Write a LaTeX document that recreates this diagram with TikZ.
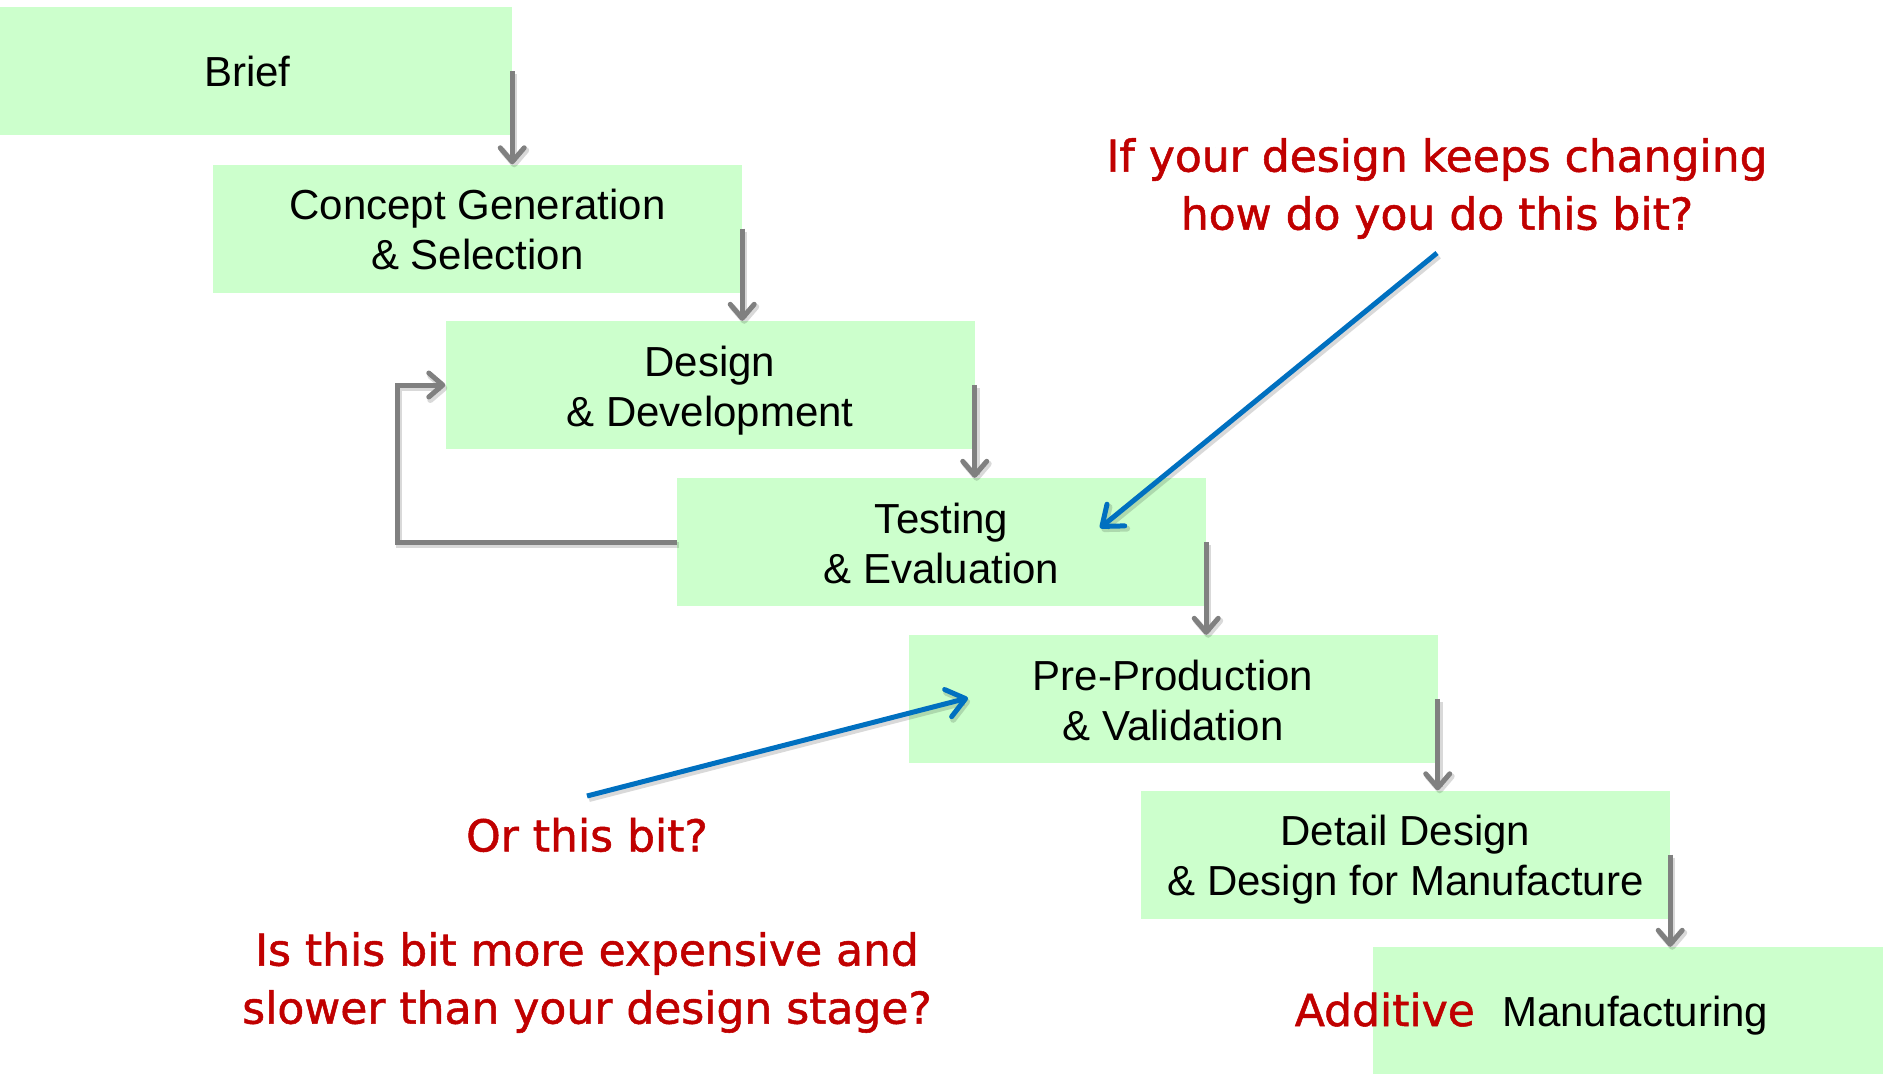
\documentclass[tikz,border=0pt]{standalone}
\usepackage{fontspec}
\setmainfont{Liberation Sans}
\newfontfamily\handfont[FakeBold=1.2]{DejaVu Sans}
\usetikzlibrary{arrows.meta}
\definecolor{stagefill}{RGB}{204,255,204}
\definecolor{flowgray}{RGB}{128,128,128}
\definecolor{noteRed}{RGB}{192,0,0}
\definecolor{noteBlue}{RGB}{0,112,192}
% two-line stage labels with fixed strut spacing, set slightly low in the box
\newcommand{\twolines}[2]{\begin{tabular}{@{}c@{}}\rule{0pt}{47pt}#1\\#2\end{tabular}}

\begin{document}
\begin{tikzpicture}[x=1pt,y=-1pt,
  stage/.style={fill=stagefill, minimum width=529pt, minimum height=128pt,
    inner sep=0pt, font=\fontsize{42}{50}\selectfont},
  soft shadow/.style={preaction={draw=black, draw opacity=0.15,
    line width=6pt, transform canvas={shift={(2pt,-3pt)}}}},
  flow/.style={soft shadow, draw=flowgray, line width=5pt,
    -{Straight Barb[length=14pt,width=24pt,round]}},
  pointer/.style={soft shadow, draw=noteBlue, line width=5pt,
    -{Straight Barb[length=18pt,width=28pt,round]}},
  note/.style={text=noteRed, align=center, inner sep=0pt,
    font=\handfont\fontsize{44}{58}\selectfont},
  plain/.style={inner sep=0pt, font=\fontsize{42}{50}\selectfont}]
\useasboundingbox (0,0) rectangle (1883,1074);
\clip (0,0) rectangle (1883,1074);

% process stages, stepping down to the right
\node[stage] (brief)   at (247.5,71)    {Brief};
\node[stage] (concept) at (477.5,228.5) {\twolines{Concept Generation}{\& Selection}};
\node[stage] (design)  at (710,385)     {\twolines{Design}{\& Development}};
\node[stage] (testing) at (941.5,542)   {\twolines{Testing}{\& Evaluation}};
\node[stage] (preprod) at (1173,699)    {\twolines{Pre-Production}{\& Validation}};
\node[stage] (detail)  at (1405.5,854.5){\twolines{Detail Design}{\& Design for Manufacture}};
\node[stage] (making)  at (1637.5,1011) {};
\node[note, anchor=base east] (additive) at (1475,1026) {Additive};
\node[plain, anchor=base west] (manuf) at (1502,1026) {Manufacturing};

% flow between stages
\draw[flow] (brief.east)   -- (brief.east   |- concept.north);
\draw[flow] (concept.east) -- (concept.east |- design.north);
\draw[flow] (design.east)  -- (design.east  |- testing.north);
\draw[flow] (testing.east) -- (testing.east |- preprod.north);
\draw[flow] (preprod.east) -- (preprod.east |- detail.north);
\draw[flow] (detail.east)  -- (detail.east  |- making.north);

% feedback loop from testing back to design
\coordinate (loop) at (397,542);
\draw[flow] (testing.west) -- (loop) |- (design.west);

% annotations
\node[note] (q1) at (1437,188.5) {If your design keeps changing\\how do you do this bit?};
\coordinate (q1tail) at (1437,253);
\coordinate (q1tip)  at (1100,528);
\draw[pointer] (q1tail) -- (q1tip);

\node[note] (q2) at (587,835) {Or this bit?};
\coordinate (q2tail) at (587,796);
\coordinate (q2tip)  at (968,698);
\draw[pointer] (q2tail) -- (q2tip);

\node[note] (q3) at (587,982.5) {Is this bit more expensive and\\slower than your design stage?};
\end{tikzpicture}
\end{document}
